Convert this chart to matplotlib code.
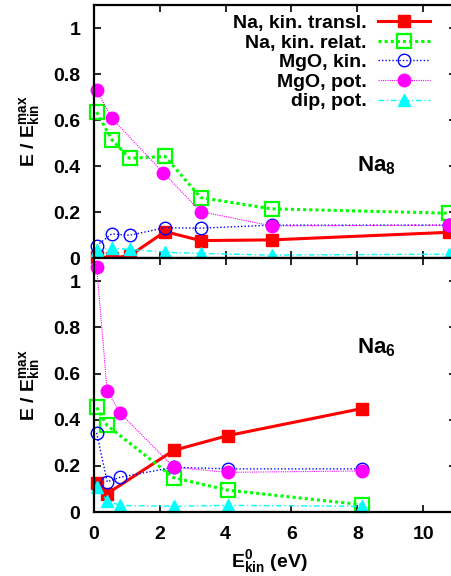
import matplotlib
matplotlib.use("Agg")
import matplotlib.pyplot as plt

plt.rcParams['font.family'] = ['Liberation Sans', 'DejaVu Sans']
plt.rcParams['font.weight'] = 'bold'
plt.rcParams['mathtext.fontset'] = 'custom'
plt.rcParams['mathtext.rm'] = 'Liberation Sans:bold'
plt.rcParams['mathtext.bf'] = 'Liberation Sans:bold'
plt.rcParams['mathtext.it'] = 'Liberation Sans:bold'
plt.rcParams['mathtext.default'] = 'bf'

labels = ["Na, kin. transl.", "Na, kin. relat.", "MgO, kin.", "MgO, pot.", "dip, pot."]

# Na8 panel (top)
x8 = [0.08, 0.54, 1.08, 2.16, 3.24, 5.4, 10.8]
x8_pot = [0.08, 0.54, 2.1, 3.24, 5.4, 10.8]
na8_transl = [0.006, 0.0, 0.01, 0.115, 0.076, 0.079, 0.112]
na8_relat = [0.635, 0.515, 0.434, 0.442, 0.263, 0.214, 0.195]
na8_mgo_kin = [0.054, 0.105, 0.099, 0.132, 0.13, 0.143, 0.143]
na8_mgo_pot = [0.73, 0.608, 0.372, 0.202, 0.14, 0.143]
na8_dip = [0.035, 0.042, 0.038, 0.025, 0.02, 0.013, 0.017]

# Na6 panel (bottom)
x6 = [0.08, 0.4, 0.8, 2.42, 4.06, 8.13]
x6_b = [0.08, 0.4, 2.42, 4.06, 8.13]
na6_transl = [0.124, 0.08, 0.267, 0.331, 0.448]
na6_relat = [0.453, 0.375, 0.149, 0.095, 0.032]
na6_mgo_kin = [0.343, 0.131, 0.151, 0.194, 0.187, 0.187]
na6_mgo_pot = [1.061, 0.525, 0.428, 0.194, 0.172, 0.178]
na6_dip = [0.11, 0.048, 0.029, 0.025, 0.029, 0.025]

xticks = [0, 2, 4, 6, 8, 10]
yticks = [0, 0.2, 0.4, 0.6, 0.8, 1]
ytick_labels = ["0", "0.2", "0.4", "0.6", "0.8", "1"]

styles = [
    dict(color='#ff0000', ls='-', lw=2.2, marker='s', ms=8, mfc='#ff0000', mec='#ff0000'),
    dict(color='#00ff00', ls=(0, (1, 1)), lw=2.2, marker='s', ms=9.5, mfc='none', mec='#00ff00', mew=1.6),
    dict(color='#0000ff', ls=(0, (1, 1.5)), lw=1.0, marker='o', ms=9, mfc='none', mec='#0000ff', mew=1.0),
    dict(color='#ff00ff', ls=(0, (1, 1)), lw=0.8, marker='o', ms=9, mfc='#ff00ff', mec='#ff00ff'),
    dict(color='#00ffff', ls=(0, (4, 2, 1, 2)), lw=1.0, marker='^', ms=8.5, mfc='#00ffff', mec='#00ffff'),
]

fs = 14

fig = plt.figure(figsize=(4.52, 5.76), dpi=100)
ax1 = fig.add_axes([0.208, 0.552, 0.801, 0.439])
ax2 = fig.add_axes([0.208, 0.111, 0.801, 0.441])

top_series = [(x8, na8_transl), (x8, na8_relat), (x8, na8_mgo_kin), (x8_pot, na8_mgo_pot), (x8, na8_dip)]
bot_series = [(x6_b, na6_transl), (x6_b, na6_relat), (x6, na6_mgo_kin), (x6, na6_mgo_pot), (x6, na6_dip)]

for (xs, ys), st, lab in zip(top_series, styles, labels):
    ax1.plot(xs, ys, label=lab, clip_on=False, **st)
for (xs, ys), st in zip(bot_series, styles):
    ax2.plot(xs, ys, clip_on=False, **st)

for ax in (ax1, ax2):
    ax.set_xlim(0, 11)
    ax.set_ylim(0, 1.1)
    ax.set_xticks(xticks)
    ax.set_yticks(yticks)
    ax.set_yticklabels(ytick_labels)
    ax.tick_params(direction='in', length=5, width=1.2, top=True, right=True,
                   labelsize=fs, pad=10)
    ax.tick_params(axis='x', pad=10)
    for sp in ax.spines.values():
        sp.set_linewidth(1.6)
    ax.set_ylabel(r'E / E$^{max}_{kin}$', fontsize=fs, fontweight='bold', labelpad=8)

ax1.tick_params(labelbottom=False)
ax2.set_xlabel(r'E$^{0}_{kin}$ (eV)', fontsize=fs, fontweight='bold')
ax2.xaxis.set_label_coords(0.483, -0.14)

ax1.text(8.0, 0.40, r'Na$_8$', fontsize=16, fontweight='bold', va='center')
ax2.text(8.0, 0.71, r'Na$_6$', fontsize=16, fontweight='bold', va='center')

# markerfirst=False puts samples on the right and right-aligns the labels
ax1.legend(loc='upper right', bbox_to_anchor=(0.928, 0.963), frameon=False,
           markerfirst=False, fontsize=fs, handlelength=2.7, handletextpad=0.55,
           labelspacing=0.1, borderpad=0, borderaxespad=0)

fig.savefig("out.png", dpi=100)
